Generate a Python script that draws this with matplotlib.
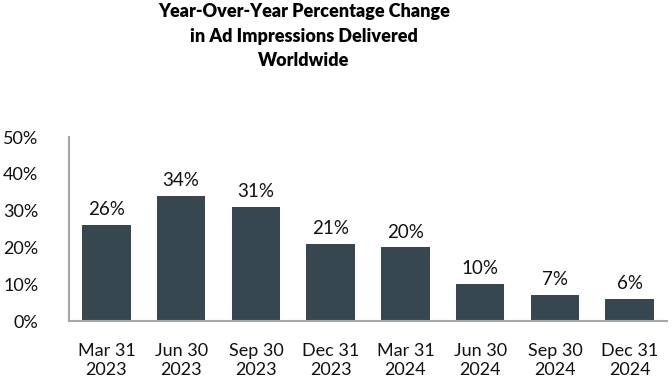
import matplotlib
matplotlib.use('Agg')
import matplotlib.pyplot as plt
import numpy as np

plt.rcParams['font.family'] = ['Lato', 'DejaVu Sans']

quarters = ['Mar 31\n2023', 'Jun 30\n2023', 'Sep 30\n2023', 'Dec 31\n2023',
            'Mar 31\n2024', 'Jun 30\n2024', 'Sep 30\n2024', 'Dec 31\n2024']
yoy_change = [26, 34, 31, 21, 20, 10, 7, 6]
y_ticks = [0, 10, 20, 30, 40, 50]

fig = plt.figure(figsize=(6.72, 3.84), dpi=100)
ax = fig.add_axes([0.1027, 0.164, 0.89, 0.479])

x = np.arange(len(quarters))
bars = ax.bar(x, yoy_change, width=0.65, color='#36474f')

# value labels above bars
for xi, v in zip(x, yoy_change):
    ax.annotate(f'{v}%', (xi, v), xytext=(0, 5), textcoords='offset points',
                ha='center', va='bottom', fontsize=13.5, color='#111111')

ax.set_xlim(-0.5, len(quarters) - 0.5)
ax.set_ylim(0, 50)
ax.set_yticks(y_ticks)
ax.set_yticklabels([f'{t}%' for t in y_ticks])
ax.set_xticks(x)
ax.set_xticklabels(quarters, linespacing=1.25)
ax.tick_params(axis='both', length=0, labelsize=13, colors='#111111')
ax.tick_params(axis='y', pad=22)
ax.tick_params(axis='x', pad=16)

for side in ['top', 'right']:
    ax.spines[side].set_visible(False)
for side in ['left', 'bottom']:
    ax.spines[side].set_color('#a6a6a6')
    ax.spines[side].set_linewidth(1.5)

fig.text(0.452, 0.992, 'Year-Over-Year Percentage Change\nin Ad Impressions Delivered\nWorldwide',
         ha='center', va='top', fontsize=13, fontweight='heavy', linespacing=1.55)

fig.savefig('out.png', dpi=100)
